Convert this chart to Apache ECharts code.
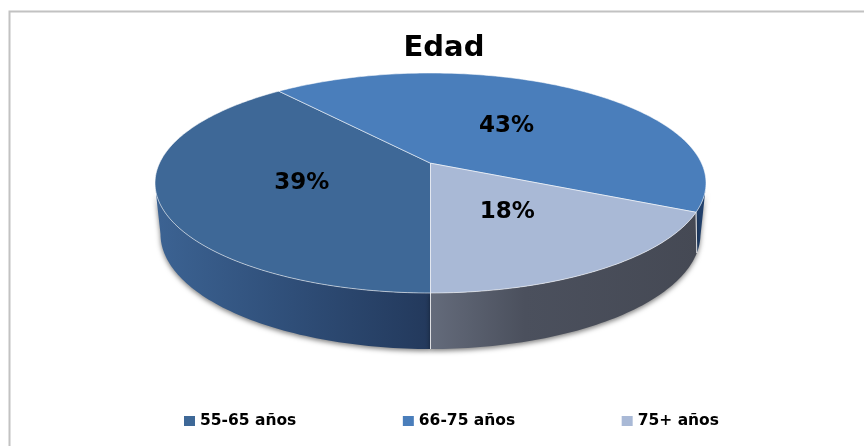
<!DOCTYPE html>
<html>
<head>
<meta charset="utf-8">
<style>html,body{margin:0;padding:0;background:#fff}#c{width:864px;height:446px}</style>
<script src="https://cdn.jsdelivr.net/npm/echarts@6/dist/echarts.min.js"></script>
</head>
<body>
<div id="c"></div>
<script>
var titleText = 'Edad';
var categories = ['55-65 años', '66-75 años', '75+ años'];
var values = [39, 43, 18];
var topColors = ['#3e6897', '#4a7ebb', '#a9b9d6'];

// projected disc layout
var TOP = {cx: 430.5, cy: 183, rx: 275.5, ry: 110, tilt: -0.18};
var BASE = {cx: 430.5, cy: 234, rx: 270, ry: 115, tilt: -0.28};
var START = 180;
var FONT = '"DejaVu Sans", Verdana, sans-serif';

var total = values.reduce(function (a, b) { return a + b; }, 0);
var bounds = [], acc = START;
values.forEach(function (v) {
  var sweep = v / total * 360;
  bounds.push([acc, acc + sweep]);
  acc += sweep;
});

function project(deg, r, e) {
  var t = deg * Math.PI / 180;
  var u = Math.sin(t) * r, v = -Math.cos(t) * r;
  var d = 1 + e.tilt * v;
  return [e.cx + e.rx * u * Math.sqrt(1 - e.tilt * e.tilt) / d, e.cy + e.ry * (v + e.tilt) / d];
}
function arc(b, e) {
  var pts = [], n = Math.ceil(b[1] - b[0]);
  for (var i = 0; i <= n; i++) pts.push(project(b[0] + (b[1] - b[0]) * i / n, 1, e));
  return pts;
}
// the part of a rim that faces the viewer
function frontArc(b, e) {
  return arc(b, e).filter(function (p) { return p[1] >= e.cy; });
}
var wallFills = [
  {type: 'linear', x: 155, y: 0, x2: 430, y2: 0, global: true,
   colorStops: [{offset: 0, color: '#3c6393'}, {offset: 0.5, color: '#2f4e78'}, {offset: 1, color: '#23395c'}]},
  '#21406b',
  {type: 'linear', x: 430, y: 0, x2: 700, y2: 0, global: true,
   colorStops: [{offset: 0, color: '#646b7b'}, {offset: 0.35, color: '#4b505d'}, {offset: 1, color: '#454954'}]}
];

function renderWalls(params, api) {
  var i = params.dataIndex;
  var b = bounds[i];
  var up = frontArc(b, TOP), low = frontArc(b, BASE).reverse();
  var kids = [];
  if (up.length < 2 || low.length < 2) return {type: 'group', children: []};
  kids.push({type: 'polygon', shape: {points: up.concat(low)},
    style: {fill: wallFills[i], shadowBlur: 5, shadowColor: 'rgba(0,0,0,0.5)', shadowOffsetY: 2}});
  [b[0], b[1]].forEach(function (d) {
    var p = project(d, 1, TOP);
    if (p[1] >= TOP.cy) {
      var q = project(d, 1, BASE);
      kids.push({type: 'line', z2: 5,
        shape: {x1: p[0], y1: p[1], x2: q[0], y2: q[1]},
        style: {stroke: 'rgba(255,255,255,0.55)', lineWidth: 1}});
    }
  });
  return {type: 'group', children: kids};
}

function renderTop(i) {
  return function (params, api) {
    var b = bounds[i];
    var apex = project(0, 0, TOP);
    var mid = project((b[0] + b[1]) / 2, 0.49, TOP);
    return {type: 'group', children: [
      {type: 'polygon', shape: {points: [apex].concat(arc(b, TOP))},
       style: {fill: topColors[i], stroke: 'rgba(255,255,255,0.55)', lineWidth: 1}},
      {type: 'text', z2: 10,
       style: {text: api.value(0) + '%', x: mid[0], y: mid[1] + 1.5, align: 'center', verticalAlign: 'middle',
               font: 'bold 23px ' + FONT, fill: '#000'}}
    ]};
  };
}

var series = [{
  name: 'lados', type: 'custom', coordinateSystem: 'none', z: 1, silent: true,
  renderItem: renderWalls, data: values
}];
categories.forEach(function (name, i) {
  series.push({
    name: name, type: 'custom', coordinateSystem: 'none', z: 2,
    itemStyle: {color: topColors[i]},
    renderItem: renderTop(i), data: [values[i]]
  });
});

var chart = echarts.init(document.getElementById('c'), null, {renderer: 'canvas'});
chart.setOption({
  animation: false,
  backgroundColor: '#fff',
  title: {text: titleText, left: 439, top: 29, textAlign: 'center',
    textStyle: {fontFamily: FONT, fontWeight: 'bold', fontSize: 29, color: '#000'}},
  tooltip: {show: false},
  legend: {
    data: categories, left: 179, top: 408, itemWidth: 11, itemHeight: 10, itemGap: 106.5, icon: 'rect',
    textStyle: {fontFamily: FONT, fontWeight: 'bold', fontSize: 15.5, color: '#000', padding: [0, 0, 0, 0]}
  },
  graphic: [{type: 'polyline', silent: true,
    shape: {points: [[9.5, 446], [9.5, 11.5], [864, 11.5]]},
    style: {fill: null, stroke: '#c2c2c2', lineWidth: 2}}],
  series: series
});
</script>
</body>
</html>
